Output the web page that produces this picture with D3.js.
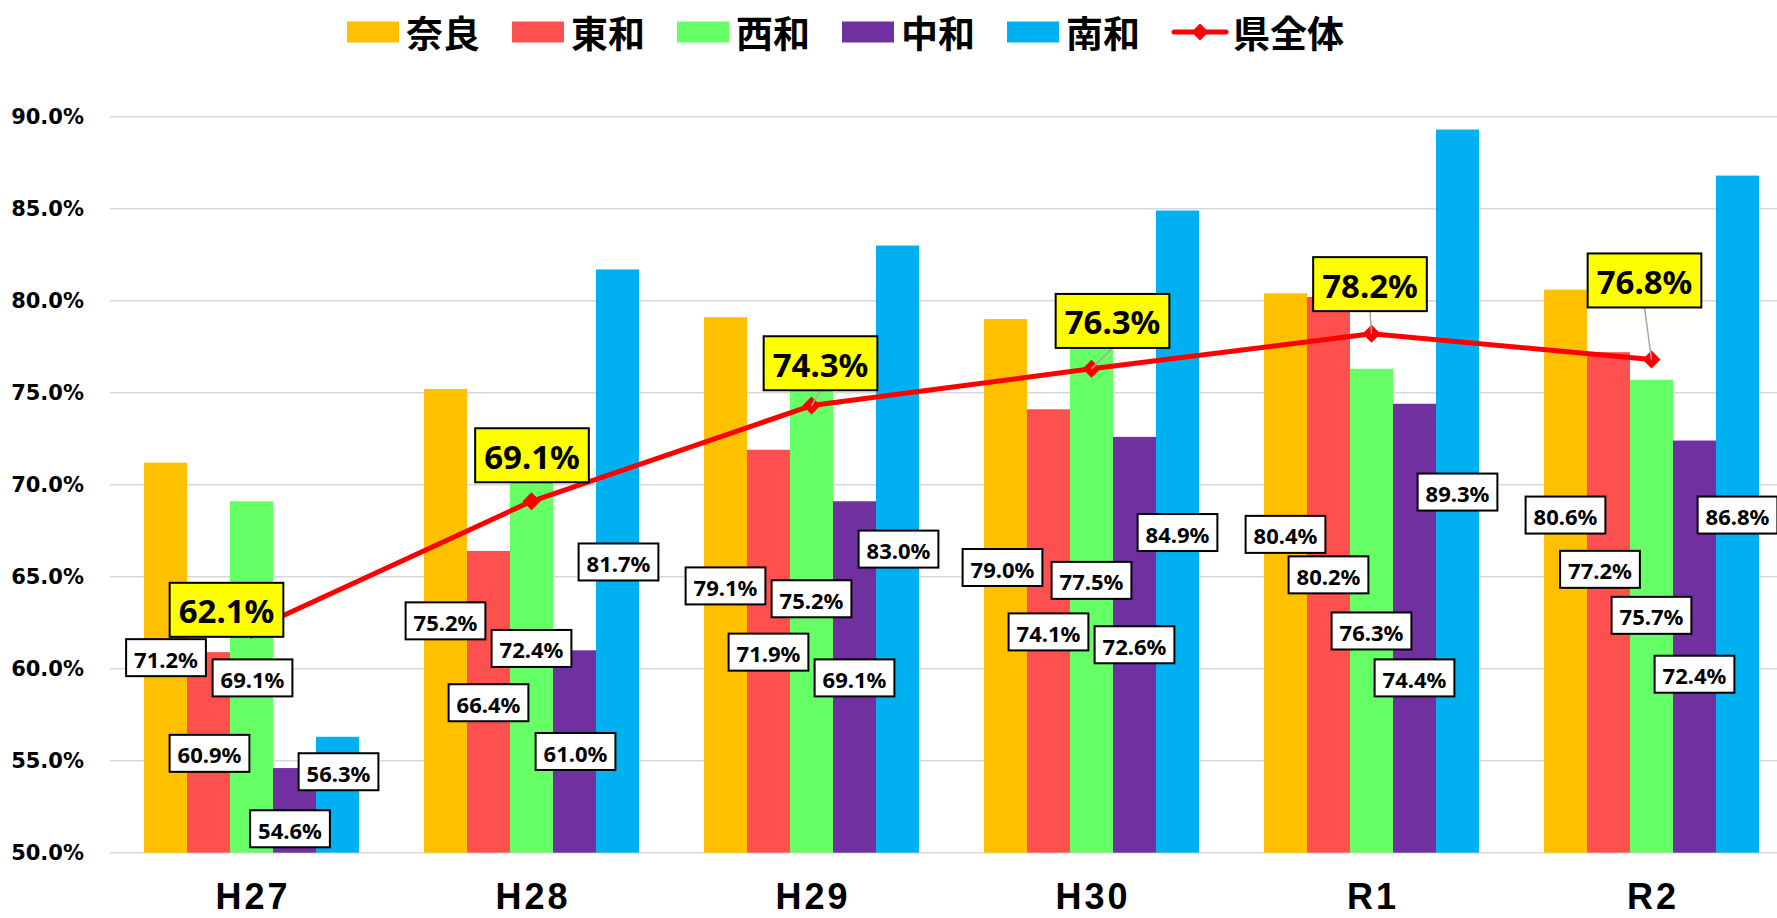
<!DOCTYPE html>
<html>
<head>
<meta charset="utf-8">
<script src="https://cdn.jsdelivr.net/npm/d3@7"></script>
<style>
  body { margin: 0; background: #fff; }
  svg { display: block; }
</style>
</head>
<body>
<div id="chart"></div>
<script>
// values (percent)
var years   = ["H27", "H28", "H29", "H30", "R1", "R2"];
var regions = ["奈良", "東和", "西和", "中和", "南和"];
var nara    = [71.2, 75.2, 79.1, 79.0, 80.4, 80.6];
var towa    = [60.9, 66.4, 71.9, 74.1, 80.2, 77.2];
var seiwa   = [69.1, 72.4, 75.2, 77.5, 76.3, 75.7];
var chuwa   = [54.6, 61.0, 69.1, 72.6, 74.4, 72.4];
var nanwa   = [56.3, 81.7, 83.0, 84.9, 89.3, 86.8];
var totalName = "県全体";
var kenAll  = [62.1, 69.1, 74.3, 76.3, 78.2, 76.8];
var yTicks  = [50, 55, 60, 65, 70, 75, 80, 85, 90];

// the data labels were dragged around by hand in the original,
// so keep where they sit (in y-axis units) and a small x nudge in px
var labelLevel = [
  [60.6, 62.6, 64.5, 65.5, 67.3, 68.35],
  [55.4, 58.15, 60.9, 62.0, 65.1, 65.4],
  [59.5, 61.1, 63.8, 64.8, 62.05, 62.9],
  [51.3, 55.5, 59.5, 61.3, 59.5, 59.7],
  [54.4, 65.8, 66.5, 67.4, 69.6, 68.35]
];
var labelNudge = [
  [0.5, 0, 0, -3, 0, 0],
  [1, 0, 0, 0, 0, -8.5],
  [1, 0, 0, 0, 0, 0],
  [-4.5, 1, 0, 0, 0, 0],
  [1, 1, 1, 0, 0, 0]
];
var totalLabelLevel = [63.2, 71.6, 76.6, 78.9, 80.9, 81.1];
var totalLabelNudge = [-25, 0.5, 9, 21, -1.5, -7];
var totalLeader     = [false, false, true, true, true, true];

var series = [nara, towa, seiwa, chuwa, nanwa];
var colors = ["#FFC000", "#FF5050", "#66FF66", "#7030A0", "#00B0F0"];
var lineColor = "#FF0000";

var W = 1777, H = 918;

var svg = d3.select("#chart").append("svg")
  .attr("width", W).attr("height", H)
  .style("background", "#fff");

var x = d3.scaleBand()
  .domain(years)
  .range([111.5, 1791.5])
  .paddingInner(0.2321)
  .paddingOuter(0.11607);

var xs = d3.scaleBand()
  .domain(d3.range(regions.length))
  .range([0, x.bandwidth()]);

var y = d3.scaleLinear().domain([50, 90]).range([852.7, 116.7]);

// gridlines
svg.append("g").selectAll("line")
  .data(yTicks).enter()
  .append("line")
  .attr("x1", 110).attr("x2", W)
  .attr("y1", function(d){ return y(d); })
  .attr("y2", function(d){ return y(d); })
  .style("stroke", "#D9D9D9")
  .style("stroke-width", "1.5px");

// y tick labels
svg.append("g").selectAll("text")
  .data(yTicks).enter()
  .append("text")
  .attr("x", 84)
  .attr("y", function(d){ return y(d); })
  .attr("text-anchor", "end")
  .attr("dominant-baseline", "central")
  .style("font-family", "'DejaVu Sans', Verdana, sans-serif")
  .style("font-weight", "bold")
  .style("font-size", "21px")
  .style("fill", "#000")
  .text(function(d){ return d3.format(".1f")(d) + "%"; });

// bars
series.forEach(function(vals, s){
  svg.append("g").selectAll("rect")
    .data(vals).enter()
    .append("rect")
    .attr("x", function(d, i){ return x(years[i]) + xs(s); })
    .attr("width", xs.bandwidth())
    .attr("y", function(d){ return y(d); })
    .attr("height", function(d){ return y(50) - y(d); })
    .style("fill", colors[s]);
});

// x labels
svg.append("g").selectAll("text")
  .data(years).enter()
  .append("text")
  .attr("x", function(d){ return x(d) + x.bandwidth()/2 + 1.5; })
  .attr("y", 909)
  .attr("text-anchor", "middle")
  .style("font-family", "'Liberation Sans', Arial, sans-serif")
  .style("font-weight", "bold")
  .style("font-size", "36px")
  .style("letter-spacing", "3px")
  .style("fill", "#000")
  .text(function(d){ return d; });

// 県全体 line
var cx = function(i){ return x(years[i]) + x.bandwidth()/2; };
var line = d3.line()
  .x(function(d, i){ return cx(i); })
  .y(function(d){ return y(d); });

svg.append("path")
  .datum(kenAll)
  .attr("d", line)
  .style("fill", "none")
  .style("stroke", lineColor)
  .style("stroke-width", "5px")
  .style("stroke-linejoin", "round");

var diamond = function(r){ return "M0," + (-r) + "L" + r + ",0L0," + r + "L" + (-r) + ",0Z"; };

svg.append("g").selectAll("path")
  .data(kenAll).enter()
  .append("path")
  .attr("d", diamond(9))
  .attr("transform", function(d, i){ return "translate(" + cx(i) + "," + y(d) + ")"; })
  .style("fill", lineColor);

// leader lines for the moved total labels
svg.append("g").selectAll("line")
  .data(kenAll).enter()
  .filter(function(d, i){ return totalLeader[i]; })
  .append("line")
  .attr("x1", function(d){ var i = kenAll.indexOf(d); return cx(i) + totalLabelNudge[i]; })
  .attr("y1", function(d){ var i = kenAll.indexOf(d); return y(totalLabelLevel[i]) + 27; })
  .attr("x2", function(d){ return cx(kenAll.indexOf(d)); })
  .attr("y2", function(d){ return y(d); })
  .style("stroke", "#A6A6A6")
  .style("stroke-width", "1.5px");

// label box helper
function addLabel(g, cxp, cyp, txt, opt){
  var lg = g.append("g").attr("transform", "translate(" + cxp + "," + cyp + ")");
  var r = lg.append("rect");
  var t = lg.append("text")
    .attr("text-anchor", "middle")
    .attr("dominant-baseline", "central")
    .attr("y", 1)
    .style("font-family", "'Noto Sans', 'Open Sans', sans-serif")
    .style("font-weight", "bold")
    .style("font-size", opt.size + "px")
    .style("fill", "#000")
    .text(txt);
  var tw = t.node().getComputedTextLength();
  var bw = tw + opt.padX*2;
  r.attr("x", -bw/2).attr("y", -opt.h/2)
    .attr("width", bw).attr("height", opt.h)
    .style("fill", opt.fill)
    .style("stroke", "#000")
    .style("stroke-width", "2px");
}

var pct = function(v){ return d3.format(".1f")(v) + "%"; };
var labels = svg.append("g");

series.forEach(function(vals, s){
  vals.forEach(function(v, i){
    var bx = x(years[i]) + xs(s) + xs.bandwidth()/2 + labelNudge[s][i];
    addLabel(labels, bx, y(labelLevel[s][i]), pct(v), {size: 22, padX: 8, h: 37, fill: "#fff"});
  });
});

kenAll.forEach(function(v, i){
  addLabel(labels, cx(i) + totalLabelNudge[i], y(totalLabelLevel[i]), pct(v), {size: 33, padX: 9, h: 54, fill: "#FFFF00"});
});

// legend
var legend = svg.append("g");
var lx = 347, ly = 32;
regions.forEach(function(name, s){
  legend.append("rect")
    .attr("x", lx).attr("y", ly - 10.5)
    .attr("width", 52).attr("height", 21)
    .style("fill", colors[s]);
  var t = legend.append("text")
    .attr("x", lx + 59).attr("y", ly)
    .attr("dominant-baseline", "central")
    .style("font-family", "'Noto Sans CJK JP', sans-serif")
    .style("font-weight", "bold")
    .style("font-size", "37px")
    .style("fill", "#000")
    .text(name);
  lx += 59 + t.node().getComputedTextLength() + 32;
});
legend.append("line")
  .attr("x1", lx + 2).attr("x2", lx + 54)
  .attr("y1", ly).attr("y2", ly)
  .style("stroke", lineColor)
  .style("stroke-width", "5px")
  .style("stroke-linecap", "round");
legend.append("path")
  .attr("d", diamond(8.5))
  .attr("transform", "translate(" + (lx + 28) + "," + ly + ")")
  .style("fill", lineColor);
legend.append("text")
  .attr("x", lx + 61).attr("y", ly)
  .attr("dominant-baseline", "central")
  .style("font-family", "'Noto Sans CJK JP', sans-serif")
  .style("font-weight", "bold")
  .style("font-size", "37px")
  .style("fill", "#000")
  .text(totalName);
</script>
</body>
</html>
